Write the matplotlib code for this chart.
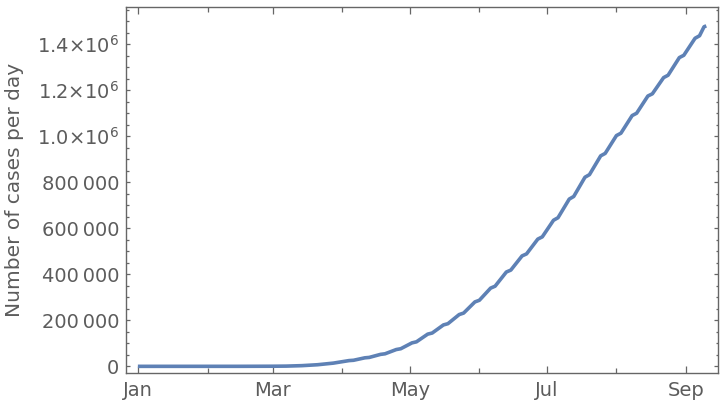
import numpy as np
import matplotlib
matplotlib.use('Agg')
import matplotlib.pyplot as plt
import matplotlib.dates as mdates
from matplotlib.ticker import MultipleLocator, FuncFormatter

# cumulative curve (Saturday / Monday points give the weekly wiggle)
dates = [
    '2020-01-01', '2020-02-15', '2020-03-01', '2020-03-07', '2020-03-14',
    '2020-03-21', '2020-03-28',
    '2020-04-04', '2020-04-06', '2020-04-11', '2020-04-13', '2020-04-18', '2020-04-20',
    '2020-04-25', '2020-04-27', '2020-05-02', '2020-05-04', '2020-05-09', '2020-05-11',
    '2020-05-16', '2020-05-18', '2020-05-23', '2020-05-25', '2020-05-30', '2020-06-01',
    '2020-06-06', '2020-06-08', '2020-06-13', '2020-06-15', '2020-06-20', '2020-06-22',
    '2020-06-27', '2020-06-29', '2020-07-04', '2020-07-06', '2020-07-11', '2020-07-13',
    '2020-07-18', '2020-07-20', '2020-07-25', '2020-07-27', '2020-08-01', '2020-08-03',
    '2020-08-08', '2020-08-10', '2020-08-15', '2020-08-17', '2020-08-22', '2020-08-24',
    '2020-08-29', '2020-08-31', '2020-09-05', '2020-09-07', '2020-09-09', '2020-09-10',
]
cases = [
    0, 100, 500, 1000, 3000,
    7000, 14000,
    25000, 26400, 37000, 38800, 52000, 54500,
    73000, 76500, 102000, 106600, 140000, 144800,
    180000, 185400, 225000, 231600, 280000, 287200,
    340000, 348400, 410000, 418400, 480000, 488800,
    553000, 562800, 635000, 646000, 727000, 738400,
    822000, 833200, 915000, 925600, 1003000, 1013400,
    1090000, 1100200, 1175000, 1184600, 1255000, 1265400,
    1342000, 1352100, 1426000, 1437000, 1476000, 1480000,
]

line_color = '#5E81B5'
frame_color = '#666666'
text_color = '#5c5c5c'


def fmt_y(v, pos):
    if v >= 1e6 - 1:
        return r'%.1f$\times$10$^{6}$' % (v / 1e6)
    if v == 0:
        return '0'
    s = '%d' % v
    return s[:-3] + '\u2009' + s[-3:]


x = np.array(dates, dtype='datetime64[D]')

fig = plt.figure(figsize=(7.2, 4.04), dpi=100)
ax = fig.add_axes([0.175, 0.0767, 0.8222, 0.906])
ax.plot(x, cases, color=line_color, lw=2.6, solid_capstyle='butt')

ax.set_xlim(np.datetime64('2019-12-26T17:00'), np.datetime64('2020-09-15T05:00'))
ax.set_ylim(-29000, 1562000)

ax.xaxis.set_major_locator(mdates.MonthLocator(bymonth=[1, 3, 5, 7, 9]))
ax.xaxis.set_minor_locator(mdates.MonthLocator(bymonth=[2, 4, 6, 8]))
ax.xaxis.set_major_formatter(mdates.DateFormatter('%b'))
ax.yaxis.set_major_locator(MultipleLocator(200000))
ax.yaxis.set_minor_locator(MultipleLocator(50000))
ax.yaxis.set_major_formatter(FuncFormatter(fmt_y))

for s in ax.spines.values():
    s.set_color(frame_color)
    s.set_linewidth(1.0)

ax.tick_params(axis='both', which='both', direction='in', colors=frame_color,
               labelcolor=text_color, labelsize=14, top=True, right=True)
ax.tick_params(axis='x', which='major', length=5, width=0.9, pad=6)
ax.tick_params(axis='x', which='minor', length=3.3, width=0.9)
ax.tick_params(axis='y', which='major', length=3, width=0.9, pad=5)
ax.tick_params(axis='y', which='minor', length=1.8, width=0.9)

ax.set_ylabel('Number of cases per day', fontsize=14.5, color=text_color)
ax.yaxis.set_label_coords(-0.172, 0.5)

fig.savefig('out.png', dpi=100)
